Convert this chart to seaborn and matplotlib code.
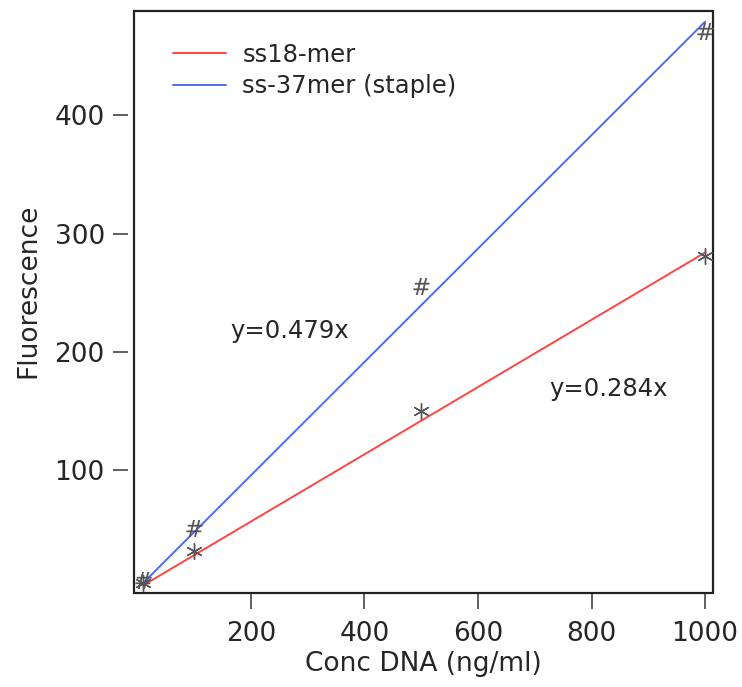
import matplotlib
matplotlib.use("Agg")
import matplotlib.pyplot as plt
import seaborn as sns
import pandas as pd
from matplotlib.patches import Rectangle

# measured points
conc = [10, 100, 500, 1000]
ss18 = [5, 32, 150, 281]
ss37 = [7, 51, 256, 471]

# fitted lines (through origin), endpoints
fit_x = [10, 1000]
fit18 = [2.84, 284]
fit37 = [4.79, 479]

xticks = [200, 400, 600, 800, 1000]
yticks = [100, 200, 300, 400]

red = "#ff4444"
blue = "#4a6cf7"
grey = "#555555"

sns.set_theme(style="white")
plt.rcParams["font.family"] = ["DejaVu Sans"]

fig = plt.figure(figsize=(7.42, 6.87), dpi=100)
ax = fig.add_axes([0.1806, 0.1368, 0.961 - 0.1806, 0.984 - 0.1368])

lines = pd.DataFrame({
    "x": fit_x + fit_x,
    "y": fit18 + fit37,
    "series": ["ss18-mer"] * 2 + ["ss-37mer (staple)"] * 2,
})
sns.lineplot(data=lines, x="x", y="y", hue="series",
             palette={"ss18-mer": red, "ss-37mer (staple)": blue},
             linewidth=1.4, ax=ax)

sns.scatterplot(x=conc, y=ss18, marker=(6, 2, 0), s=130, color=grey,
                linewidth=1.0, ax=ax, zorder=3)
sns.scatterplot(x=conc, y=ss37, marker=r"$\#$", s=150, color=grey,
                linewidth=0, ax=ax, zorder=3)

ax.set_xlim(-6, 1014)
ax.set_ylim(-3.6, 488)
ax.set_xticks(xticks)
ax.set_yticks(yticks)

# frame drawn separately so the ticks can sit outward
for s in ax.spines.values():
    s.set_visible(False)
ax.spines["left"].set_position(("outward", 4))
ax.spines["bottom"].set_position(("outward", 1))
ax.add_patch(Rectangle((0, 0), 1, 1, transform=ax.transAxes, fill=False,
                       edgecolor="#222222", linewidth=1.6, clip_on=False))
ax.tick_params(axis="both", direction="out", length=11, width=1.2,
               color="#444444", labelsize=19, pad=6,
               bottom=True, left=True)
ax.tick_params(axis="x", pad=8)

ax.set_xlabel("Conc DNA (ng/ml)", fontsize=19, labelpad=3)
ax.set_ylabel("Fluorescence", fontsize=19)
ax.yaxis.set_label_coords(-0.16, 0.52)

ax.text(163, 218, "y=0.479x", fontsize=17.5, va="center", ha="left")
ax.text(725, 169, "y=0.284x", fontsize=17.5, va="center", ha="left")

ax.legend(loc="upper left", frameon=False, fontsize=17.5,
          bbox_to_anchor=(0.067, 0.945), handlelength=2.2,
          handletextpad=0.66, labelspacing=0.3, borderpad=0,
          borderaxespad=0)

fig.savefig("out.png", dpi=100)
